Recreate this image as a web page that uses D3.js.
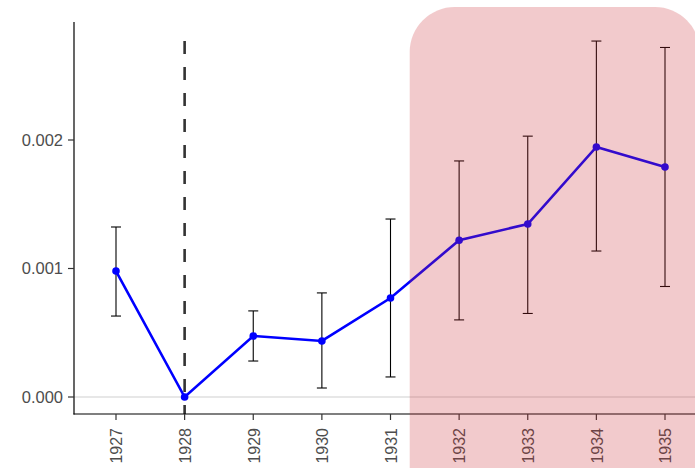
<!DOCTYPE html>
<html>
<head>
<meta charset="utf-8">
<script src="https://cdn.jsdelivr.net/npm/d3@7"></script>
<style>
  html, body { margin: 0; padding: 0; background: #fff; }
  svg { display: block; }
</style>
</head>
<body>
<svg id="chart" width="695" height="468"></svg>
<script>
// Yearly estimates with confidence intervals
const years    = [1927, 1928, 1929, 1930, 1931, 1932, 1933, 1934, 1935];
const estimate = [0.00098, 0.0, 0.000475, 0.000436, 0.00077, 0.00122, 0.001346, 0.001946, 0.00179];
const lower    = [0.00063, null, 0.00028, 0.00007, 0.000156, 0.0006, 0.00065, 0.001136, 0.00086];
const upper    = [0.001323, null, 0.00067, 0.00081, 0.001385, 0.001837, 0.00203, 0.00277, 0.00272];
const yTicks   = [0, 0.001, 0.002];
const yTickLabels = ["0.000", "0.001", "0.002"];
const eventYear = 1928;
const highlightStart = 1931.28;

(function () {
const svg = d3.select("#chart");
const W = 695;
const mLeft = 74, mTop = 22, mBottom = 414;

const x = d3.scaleLinear().domain([1927, 1935]).range([116, 665]);
const y = d3.scaleLinear().domain([0, 0.002]).range([397, 140]);

const font = "'Liberation Sans', Arial, sans-serif";

// zero reference line
svg.append("line")
  .attr("x1", mLeft).attr("x2", W)
  .attr("y1", y(0)).attr("y2", y(0))
  .attr("stroke", "#d0d0d0").attr("stroke-width", 1.2);

// event marker
svg.append("line")
  .attr("x1", x(eventYear)).attr("x2", x(eventYear))
  .attr("y1", mBottom).attr("y2", mTop + 10)
  .attr("stroke", "#333").attr("stroke-width", 2.6)
  .attr("stroke-dasharray", "13,13")
  .attr("stroke-dashoffset", 4);

const pts = years.map((yr, i) => ({ yr, est: estimate[i], lo: lower[i], hi: upper[i] }));

// error bars
const eb = svg.append("g").attr("stroke", "#000").attr("stroke-width", 1.1);
pts.filter(d => d.lo !== null).forEach(d => {
  eb.append("line").attr("x1", x(d.yr)).attr("x2", x(d.yr)).attr("y1", y(d.lo)).attr("y2", y(d.hi));
  eb.append("line").attr("x1", x(d.yr) - 5).attr("x2", x(d.yr) + 5).attr("y1", y(d.lo)).attr("y2", y(d.lo));
  eb.append("line").attr("x1", x(d.yr) - 5).attr("x2", x(d.yr) + 5).attr("y1", y(d.hi)).attr("y2", y(d.hi));
});

// estimate line and points
svg.append("path")
  .datum(pts)
  .attr("fill", "none")
  .attr("stroke", "#0000ff")
  .attr("stroke-width", 2.6)
  .attr("d", d3.line().x(d => x(d.yr)).y(d => y(d.est)));

svg.append("g").selectAll("circle").data(pts).join("circle")
  .attr("cx", d => x(d.yr)).attr("cy", d => y(d.est)).attr("r", 3.8)
  .attr("fill", "#0000ff");

// axes
const yAxis = svg.append("g");
yAxis.append("line").attr("x1", mLeft).attr("x2", mLeft).attr("y1", mTop).attr("y2", mBottom + 0.5)
  .attr("stroke", "#000").attr("stroke-width", 1.2);
yTicks.forEach((t, i) => {
  yAxis.append("line").attr("x1", mLeft - 6).attr("x2", mLeft).attr("y1", y(t)).attr("y2", y(t))
    .attr("stroke", "#333").attr("stroke-width", 1.2);
  yAxis.append("text").attr("x", mLeft - 11).attr("y", y(t)).attr("dy", "0.36em")
    .attr("text-anchor", "end").attr("font-family", font).attr("font-size", 16.5)
    .attr("fill", "#4d4d4d").text(yTickLabels[i]);
});

const xAxis = svg.append("g");
xAxis.append("line").attr("x1", mLeft - 0.5).attr("x2", W).attr("y1", mBottom).attr("y2", mBottom)
  .attr("stroke", "#000").attr("stroke-width", 1.2);
years.forEach(yr => {
  xAxis.append("line").attr("x1", x(yr)).attr("x2", x(yr)).attr("y1", mBottom).attr("y2", mBottom + 6)
    .attr("stroke", "#333").attr("stroke-width", 1.2);
  xAxis.append("text")
    .attr("transform", `translate(${x(yr) + 0.5},${mBottom + 14}) rotate(-90)`)
    .attr("dy", "0.36em").attr("text-anchor", "end")
    .attr("font-family", font).attr("font-size", 16)
    .attr("fill", "#4d4d4d").text(String(yr));
});

// highlighted period, drawn translucent over everything
svg.append("rect")
  .attr("x", x(highlightStart)).attr("y", 7)
  .attr("width", 700 - x(highlightStart)).attr("height", 520)
  .attr("rx", 45).attr("ry", 45)
  .attr("fill", "rgb(203,43,51)").attr("fill-opacity", 0.25);
})();
</script>
</body>
</html>
